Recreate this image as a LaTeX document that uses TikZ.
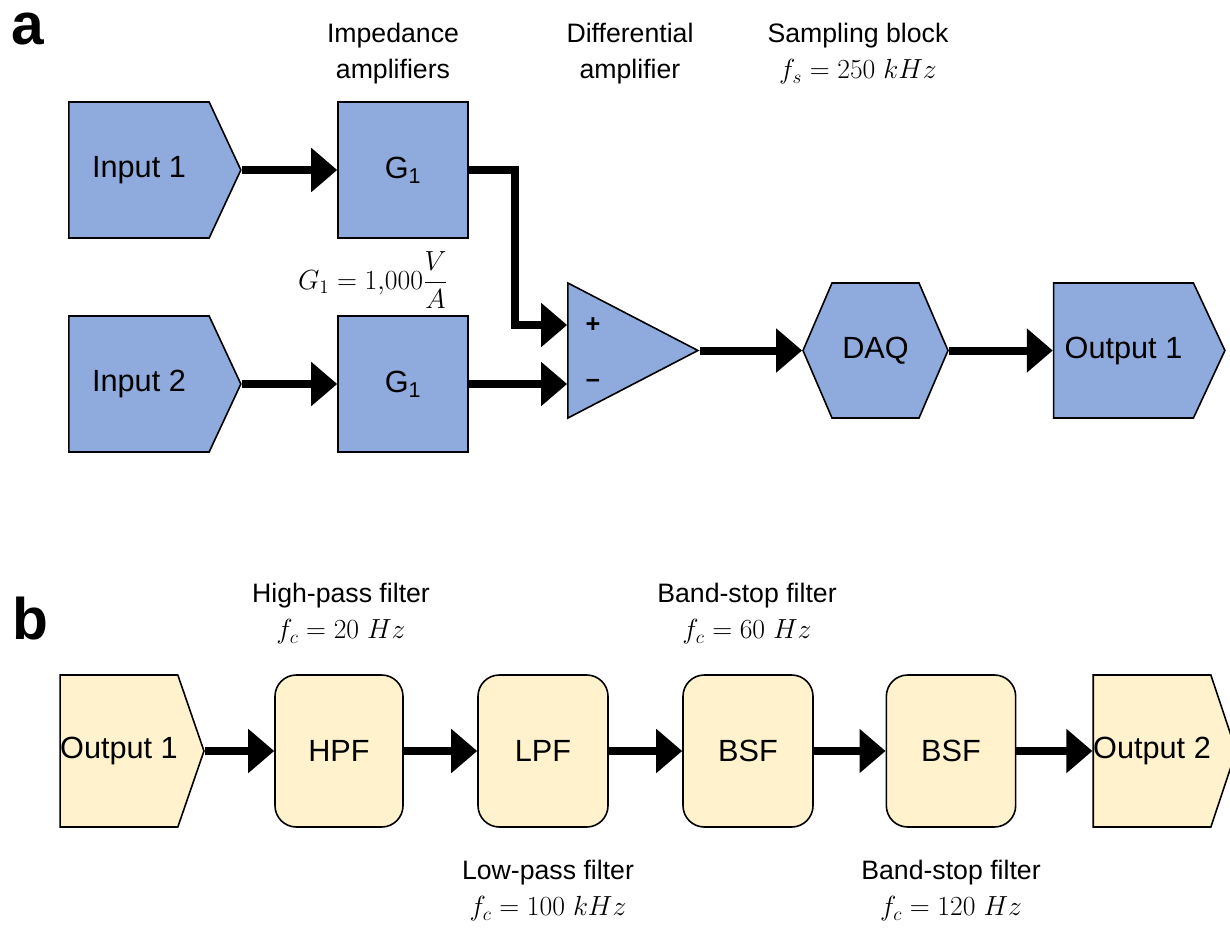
\documentclass[tikz,border=0pt]{standalone}
\usepackage[no-math]{fontspec}
\setmainfont{Liberation Sans}
\usetikzlibrary{shapes.symbols,shapes.geometric,arrows.meta,calc}

\definecolor{blueblk}{HTML}{8FAADC}
\definecolor{yellowblk}{HTML}{FFF2CC}

\tikzset{
  block/.style={draw=black, line width=1.2pt, inner sep=0pt, font=\fontsize{23}{27}\selectfont},
  blueblk/.style={block, fill=blueblk},
  yellowblk/.style={block, fill=yellowblk},
  sigblk/.style={shape=signal, signal to=east, signal from=nowhere},
  filterblk/.style={yellowblk, rectangle, rounded corners=16pt, minimum height=114pt},
  flow/.style={line width=6pt, line join=miter, -{Triangle[length=19.5pt, width=32pt]}},
  note/.style={align=center, font=\fontsize{20}{27}\selectfont},
  mathnote/.style={note, font=\fontsize{21.5}{27}\selectfont},
  panel/.style={anchor=base west, inner sep=0pt, font=\fontsize{44}{48}\bfseries},
  sign/.style={font=\fontsize{19}{21}\bfseries}
}

\begin{document}
\begin{tikzpicture}[x=0.75pt, y=0.75pt]
	\useasboundingbox (0,0) rectangle (1230,-928);

	% panel a
	\node[panel] (pa) at (11,-44) {a};
	\node (in1) at (139,-170)  [blueblk, sigblk, signal pointer angle=130, minimum width=129pt, minimum height=102pt] {Input 1};
	\node (in2) at (139,-384)  [blueblk, sigblk, signal pointer angle=130, minimum width=129pt, minimum height=102pt] {Input 2};
	\node (G1a) at (403,-170)  [blueblk, rectangle, minimum width=97.5pt, minimum height=102pt] {G\textsubscript{1}};
	\node (G1b) at (403,-384)  [blueblk, rectangle, minimum width=97.5pt, minimum height=102pt] {G\textsubscript{1}};
	% triangle: width is the base, height runs base to apex
	\node (amp) at (700,-350.5) [blueblk, isosceles triangle, isosceles triangle stretches, anchor=apex, minimum width=101.25pt, minimum height=97.5pt] {};
	\node (daq) at (875.5,-350.5) [blueblk, shape=signal, signal to=east and west, signal pointer angle=133.5, minimum width=108.75pt, minimum height=101.25pt] {DAQ};
	\node (out1) at (1123.5,-350.5) [blueblk, sigblk, signal pointer angle=130, minimum width=128.5pt, minimum height=101.25pt] {Output 1};
	\node[sign] (plus) at (593,-325) {+};
	\node[sign] (minus) at (593,-383) {\textendash};

	\node[note] (t-imp) at (393,-54)  {Impedance\\amplifiers};
	\node[note] (t-dif) at (630,-54)  {Differential\\amplifier};
	\node[note] (t-smp) at (858,-54)  {Sampling block\\{\fontsize{21.5}{27}\selectfont$f_s = 250\ kHz$}};
	\node[mathnote] (t-gain) at (373,-280) {$\displaystyle G_1 = 1{,}000\frac{V}{A}$};

	\coordinate (pin) at ($(amp.west)+(0,25.5)$);
	\draw[flow] (in1.east) -- (G1a.west);
	\draw[flow] (in2.east) -- (G1b.west);
	\draw[flow] (G1a.east) -| ($(pin)+(-52,0)$) -- (pin);
	\draw[flow] (G1b.east) -- (G1b.east -| amp.west);
	\draw[flow] (amp.apex) -- (daq.west);
	\draw[flow] (daq.east) -- (out1.west);

	% panel b
	\node[panel] (pb) at (12,-639) {b};
	\node (yout1) at (119,-751) [yellowblk, sigblk, signal pointer angle=142, minimum width=101pt, minimum height=114pt] {Output 1};
	\node (hpf)  at (339,-751) [filterblk, minimum width=96pt] {HPF};
	\node (lpf)  at (543,-751) [filterblk, minimum width=97.5pt] {LPF};
	\node (bsf1) at (748,-751) [filterblk, minimum width=97.5pt] {BSF};
	\node (bsf2) at (951,-751) [filterblk, minimum width=97pt] {BSF};
	\node (out2) at (1152,-751) [yellowblk, sigblk, signal pointer angle=143, minimum width=102pt, minimum height=114pt] {Output 2};

	\node[note] (t-hpf)  at (341,-614) {High-pass filter\\{\fontsize{21.5}{27}\selectfont$f_c = 20\ Hz$}};
	\node[note] (t-bsf1) at (747,-614) {Band-stop filter\\{\fontsize{21.5}{27}\selectfont$f_c = 60\ Hz$}};
	\node[note] (t-lpf)  at (548,-891) {Low-pass filter\\{\fontsize{21.5}{27}\selectfont$f_c = 100\ kHz$}};
	\node[note] (t-bsf2) at (951,-891) {Band-stop filter\\{\fontsize{21.5}{27}\selectfont$f_c = 120\ Hz$}};

	\draw[flow] (yout1.east) -- (hpf.west);
	\draw[flow] (hpf.east) -- (lpf.west);
	\draw[flow] (lpf.east) -- (bsf1.west);
	\draw[flow] (bsf1.east) -- (bsf2.west);
	\draw[flow] (bsf2.east) -- (out2.west);
\end{tikzpicture}
\end{document}
